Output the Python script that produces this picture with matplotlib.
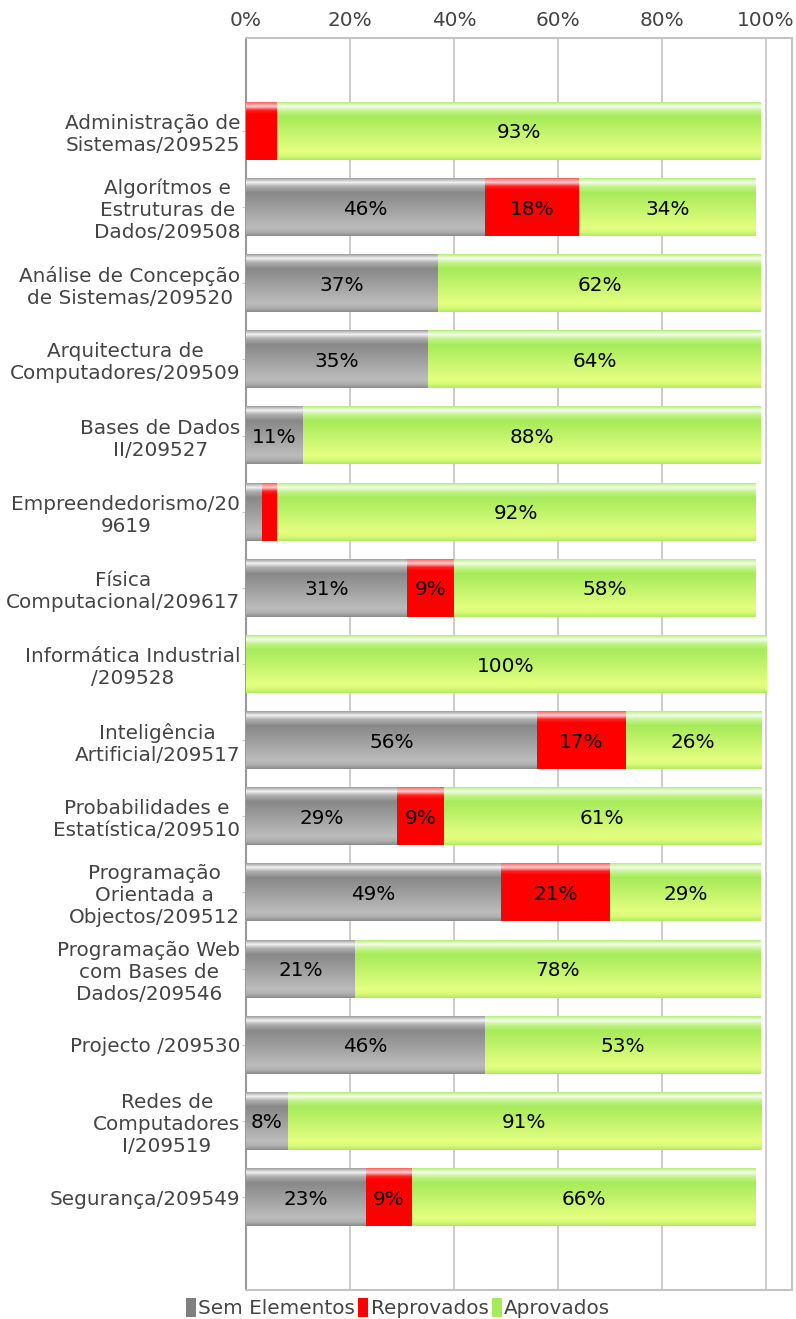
import numpy as np
import matplotlib
matplotlib.use("Agg")
import matplotlib.pyplot as plt
from matplotlib.patches import Patch
from matplotlib.colors import to_rgb

categories = [
    "Administração de\nSistemas/209525",
    "Algorítmos e\nEstruturas de\nDados/209508",
    "Análise de Concepção\nde Sistemas/209520",
    "Arquitectura de\nComputadores/209509",
    "Bases de Dados\nII/209527",
    "Empreendedorismo/20\n9619",
    "Física\nComputacional/209617",
    "Informática Industrial\n/209528",
    "Inteligência\nArtificial/209517",
    "Probabilidades e\nEstatística/209510",
    "Programação\nOrientada a\nObjectos/209512",
    "Programação Web\ncom Bases de\nDados/209546",
    "Projecto /209530",
    "Redes de\nComputadores\nI/209519",
    "Segurança/209549",
]
sem_elementos = [0, 46, 37, 35, 11, 3, 31, 0, 56, 29, 49, 21, 46, 8, 23]
reprovados    = [6, 18, 0, 0, 0, 3, 9, 0, 17, 9, 21, 0, 0, 0, 9]
aprovados     = [93, 34, 62, 64, 88, 92, 58, 100, 26, 61, 29, 78, 53, 91, 66]
series_names = ["Sem Elementos", "Reprovados", "Aprovados"]
xticks = [0, 20, 40, 60, 80, 100]

FS = 14.4

# gradient profiles (position from top 0 -> bottom 1, colour)
profiles = {
    "Sem Elementos": [(0.0, "#a0a0a0"), (0.07, "#f2f2f2"), (0.14, "#b0b0b0"),
                      (0.25, "#888888"), (0.85, "#bcbcbc"), (0.93, "#b0b0b0"), (1.0, "#8c8c8c")],
    "Reprovados": [(0.0, "#ff6060"), (0.07, "#ffd0d0"), (0.14, "#ff2020"),
                   (0.2, "#ff0000"), (1.0, "#ff0000")],
    "Aprovados": [(0.0, "#b8ee78"), (0.07, "#f4fff0"), (0.14, "#c8f490"),
                  (0.25, "#a6eb5a"), (0.85, "#e4ff80"), (0.93, "#d8fa78"), (1.0, "#b0ec60")],
}
legend_colors = {"Sem Elementos": "#808080", "Reprovados": "#ff0000", "Aprovados": "#a6eb5a"}


def make_grad(prof, n=100):
    t = np.linspace(0, 1, n)
    pos = [p for p, _ in prof]
    cols = np.array([to_rgb(c) for _, c in prof])
    img = np.stack([np.interp(t, pos, cols[:, k]) for k in range(3)], axis=1)
    return img[:, None, :]


grads = {k: make_grad(v) for k, v in profiles.items()}

fig = plt.figure(figsize=(7.96, 13.19), dpi=100)
ax = fig.add_axes([246 / 796, 1 - 1290 / 1319, (792 - 246) / 796, (1290 - 38) / 1319])

n = len(categories)
ypos = np.arange(n)
bar_h = 0.76
data = [sem_elementos, reprovados, aprovados]

for i in range(n):
    left = 0
    for name, vals in zip(series_names, data):
        v = vals[i]
        if v > 0:
            ax.imshow(grads[name], extent=(left, left + v, i + bar_h / 2, i - bar_h / 2),
                      aspect="auto", interpolation="bilinear", zorder=3)
            if v >= 7:
                ax.text(left + v / 2, i, f"{v}%", ha="center", va="center_baseline",
                        fontsize=FS, color="black", zorder=4)
        left += v

ax.set_xlim(0, 105)
ax.set_ylim(n - 1 + 1.22, -1.22)
ax.set_xticks(xticks)
ax.set_xticklabels([f"{x}%" for x in xticks])
ax.xaxis.tick_top()
ax.tick_params(axis="x", length=0, labelsize=FS, labelcolor="#444444", pad=6)
ax.set_yticks(ypos)
ax.set_yticklabels(categories, multialignment="center")
ax.tick_params(axis="y", length=3, color="#cccccc", labelsize=FS, labelcolor="#444444", pad=1)

ax.grid(axis="x", color="#c4c4c4", linewidth=1.2, zorder=0)
ax.set_axisbelow(True)
for s in ["top", "right", "bottom"]:
    ax.spines[s].set_color("#c4c4c4")
    ax.spines[s].set_linewidth(1.5)
ax.spines["left"].set_color("#999999")
ax.spines["left"].set_linewidth(1.5)

handles = [Patch(facecolor=legend_colors[s], edgecolor="none", label=s) for s in series_names]
fig.legend(handles=handles, loc="center", bbox_to_anchor=(398 / 796, 1 - 1308 / 1319),
           ncol=3, frameon=False, fontsize=FS, handlelength=0.5, handleheight=1.1,
           handletextpad=0.12, columnspacing=0.15, labelcolor="#444444", borderpad=0)

fig.savefig("out.png", dpi=100)
